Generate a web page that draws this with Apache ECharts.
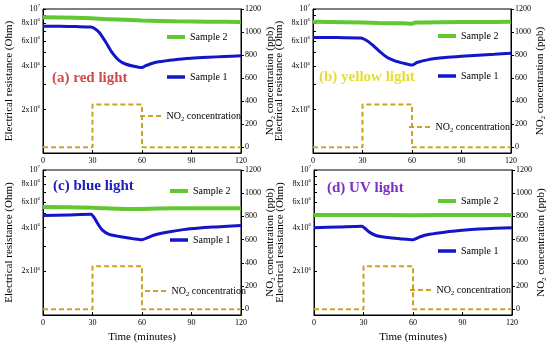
<!DOCTYPE html>
<html><head><meta charset="utf-8">
<script src="https://cdn.jsdelivr.net/npm/echarts@6/dist/echarts.min.js"></script>
<style>html,body{margin:0;padding:0;background:#fff}#c{width:550px;height:347px}</style>
</head><body><div id="c"></div>
<script>
// ---- data ----
const timeTicks = [0, 30, 60, 90, 120];
const resLabels = [2e6, 4e6, 6e6, 8e6, 1e7];
const resTicks = [1e6, 2e6, 3e6, 4e6, 5e6, 6e6, 7e6, 8e6, 9e6, 1e7];
const concTicks = [0, 200, 400, 600, 800, 1000, 1200];
const panelTitles = ['(a) red light', '(b) yellow light', '(c) blue light', '(d) UV light'];

const no2 = [[0,0],[30,0],[30,370],[60,370],[60,0],[120,0]];

const redSample2 = [[0,8.75e6],[20,8.7e6],[40,8.5e6],[60,8.32e6],[80,8.22e6],[100,8.16e6],[120,8.12e6]];
const redSample1 = [[0,7.6e6],[10,7.58e6],[20,7.55e6],[29,7.5e6],[31,7.35e6],[34,6.9e6],[38,5.9e6],[42,4.95e6],[46,4.4e6],[50,4.15e6],[55,4.0e6],[60,3.92e6],[62,4.02e6],[65,4.15e6],[70,4.3e6],[80,4.45e6],[90,4.55e6],[100,4.62e6],[110,4.68e6],[120,4.73e6]];

const yellowSample2 = [[0,8.15e6],[20,8.1e6],[40,8.0e6],[55,7.95e6],[60,7.9e6],[62,8.05e6],[80,8.1e6],[100,8.12e6],[120,8.15e6]];
const yellowSample1 = [[0,6.35e6],[15,6.33e6],[29,6.3e6],[33,6.0e6],[37,5.5e6],[41,5.0e6],[45,4.6e6],[50,4.35e6],[55,4.2e6],[60,4.08e6],[63,4.25e6],[70,4.45e6],[80,4.6e6],[90,4.7e6],[100,4.78e6],[110,4.85e6],[120,4.93e6]];

const blueSample2 = [[0,5.55e6],[30,5.5e6],[45,5.4e6],[55,5.38e6],[70,5.42e6],[90,5.45e6],[120,5.45e6]];
const blueSample1 = [[0,4.85e6],[15,4.9e6],[29,4.95e6],[31,4.7e6],[33,4.3e6],[36,3.85e6],[40,3.6e6],[45,3.5e6],[50,3.42e6],[55,3.35e6],[60,3.3e6],[63,3.4e6],[67,3.55e6],[75,3.72e6],[85,3.88e6],[95,3.98e6],[105,4.05e6],[120,4.15e6]];

const uvSample2 = [[0,4.9e6],[30,4.9e6],[60,4.88e6],[90,4.9e6],[120,4.9e6]];
const uvSample1 = [[0,4.0e6],[15,4.05e6],[29,4.1e6],[31,3.95e6],[34,3.7e6],[38,3.52e6],[45,3.42e6],[52,3.36e6],[60,3.3e6],[64,3.45e6],[70,3.6e6],[80,3.74e6],[90,3.84e6],[100,3.92e6],[110,3.97e6],[120,4.0e6]];

const sample1Sets = [redSample1, yellowSample1, blueSample1, uvSample1];
const sample2Sets = [redSample2, yellowSample2, blueSample2, uvSample2];

// ---- styling / layout ----
const FONT = '"Liberation Serif", "Times New Roman", serif';
const BLUE = '#1414c8', GREEN = '#62c832', GOLD = '#c9a227';
const titleColors = ['#cf4b4b', '#e3dc3a', '#2020c0', '#7d2fc4'];
const layout = [
  {grid:{left:43, top:9, width:198, height:144}, title:[52,71], leg2:[167,32], leg1:[167,72], legN:[140,111], xName:false, lGap:28, rGap:21},
  {grid:{left:313, top:9, width:198, height:144}, title:[319,70], leg2:[438,31], leg1:[438,71], legN:[409,122], xName:false, lGap:28, rGap:22},
  {grid:{left:43, top:170, width:198, height:145}, title:[53,179], leg2:[170,186], leg1:[170,235], legN:[145,286], xName:true, lGap:28, rGap:21},
  {grid:{left:314, top:170, width:198, height:145}, title:[327,181], leg2:[438,196], leg1:[438,246], legN:[410,285], xName:true, lGap:28, rGap:22}
];

const supRich = { s: { fontSize: 5, fontFamily: FONT, color: '#000', padding: [0,0,6,0] } };
const subRich = { sub: { fontSize: 6.5, fontFamily: FONT, color: '#000', padding: [6,0,0,0] } };
const DASH_ICON = 'path://M0,0h5v2h-5zM8,0h5v2h-5zM16,0h5v2h-5z';

function resFmt(v) {
  const m = Math.round(v / 1e6);
  if (m === 10) return '10{s|7}';
  return m + 'x10{s|6}';
}

const grids = [], xAxes = [], yAxes = [], series = [], legends = [], titles = [];
layout.forEach((p, i) => {
  grids.push(Object.assign({show:true, borderColor:'#000', borderWidth:1, backgroundColor:'transparent'}, p.grid));
  xAxes.push({
    type:'value', gridIndex:i, min:0, max:120, interval:30,
    axisLine:{show:true, onZero:false, lineStyle:{color:'#000', width:1}},
    axisTick:{show:true, inside:true, length:3, lineStyle:{color:'#000'}},
    axisLabel:{fontFamily:FONT, fontSize:8, color:'#000', margin:4},
    splitLine:{show:false},
    name: p.xName ? 'Time (minutes)' : '', nameLocation:'middle', nameGap:17,
    nameTextStyle:{fontFamily:FONT, fontSize:11, color:'#000'}
  });
  yAxes.push({
    type:'log', logBase:10, gridIndex:i, min:1e6, max:1e7, position:'left',
    axisLine:{show:true, lineStyle:{color:'#000', width:1}},
    axisTick:{show:true, inside:true, length:3, customValues:resTicks, lineStyle:{color:'#000'}},
    axisLabel:{customValues:resLabels, formatter:resFmt, fontFamily:FONT, fontSize:8, color:'#000', margin:3, rich:supRich},
    splitLine:{show:false}, minorTick:{show:false},
    name:'Electrical resistance (Ohm)', nameLocation:'middle', nameGap:p.lGap,
    nameTextStyle:{fontFamily:FONT, fontSize:11, color:'#000'}
  });
  yAxes.push({
    type:'value', gridIndex:i, min:-50, max:1200, position:'right',
    axisLine:{show:true, lineStyle:{color:'#000', width:1}},
    axisTick:{show:true, inside:false, length:3, customValues:concTicks, lineStyle:{color:'#000'}},
    axisLabel:{customValues:concTicks, formatter:v => String(Math.round(v)), fontFamily:FONT, fontSize:8, color:'#000', margin:4},
    splitLine:{show:false},
    name:'NO{sub|2} concentration (ppb)', nameLocation:'middle', nameGap:p.rGap, nameRotate:90,
    nameTextStyle:{fontFamily:FONT, fontSize:11, color:'#000', rich:subRich}
  });
  series.push({
    name:'Sample 2', type:'line', xAxisIndex:i, yAxisIndex:2*i, data:sample2Sets[i],
    symbol:'none', smooth:0.2, lineStyle:{color:GREEN, width:4}, itemStyle:{color:GREEN}, z:3
  });
  series.push({
    name:'Sample 1', type:'line', xAxisIndex:i, yAxisIndex:2*i, data:sample1Sets[i],
    symbol:'none', smooth:0.25, lineStyle:{color:BLUE, width:3}, itemStyle:{color:BLUE}, z:4
  });
  series.push({
    name:'NO2', type:'line', xAxisIndex:i, yAxisIndex:2*i+1, data:no2,
    symbol:'none', lineStyle:{color:GOLD, width:2, type:[5,3]}, itemStyle:{color:GOLD}, z:2
  });
  const legBase = {orient:'horizontal', padding:0, itemGap:0, selectedMode:false,
    itemStyle:{borderWidth:0},
    textStyle:{fontFamily:FONT, fontSize:10, color:'#000', rich:subRich},
    formatter: n => n === 'NO2' ? 'NO{sub|2} concentration' : n};
  legends.push(Object.assign({}, legBase, {data:['Sample 2'], left:p.leg2[0], top:p.leg2[1], itemWidth:18, itemHeight:4, icon:'rect'}));
  legends.push(Object.assign({}, legBase, {data:['Sample 1'], left:p.leg1[0], top:p.leg1[1], itemWidth:18, itemHeight:3.5, icon:'rect'}));
  legends.push(Object.assign({}, legBase, {data:['NO2'], left:p.legN[0], top:p.legN[1], itemWidth:22, itemHeight:2, icon:DASH_ICON}));
  titles.push({text:panelTitles[i], left:p.title[0], top:p.title[1], padding:0,
    textStyle:{fontFamily:FONT, fontSize:15, fontWeight:'bold', color:titleColors[i]}});
});

const chart = echarts.init(document.getElementById('c'), null, {renderer:'canvas'});
chart.setOption({
  animation:false, backgroundColor:'#fff',
  title:titles, grid:grids, xAxis:xAxes, yAxis:yAxes, series:series, legend:legends
});
</script></body></html>
